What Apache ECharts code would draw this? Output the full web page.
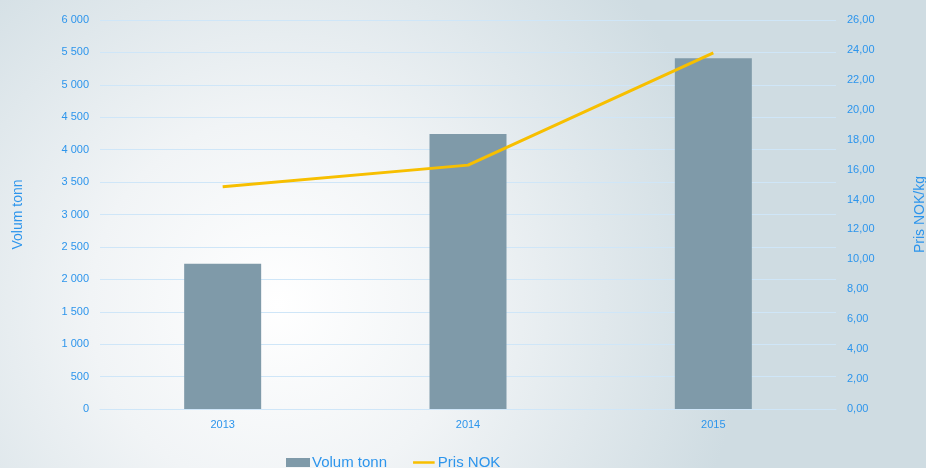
<!DOCTYPE html>
<html>
<head>
<meta charset="utf-8">
<script src="https://cdn.jsdelivr.net/npm/echarts@6/dist/echarts.min.js"></script>
<style>
  html, body { margin: 0; padding: 0; }
  #chart { width: 926px; height: 468px; }
</style>
</head>
<body>
<div id="chart"></div>
<script>
const years = ['2013', '2014', '2015'];
const volumTonn = [2240, 4240, 5410];
const prisNok = [14.85, 16.3, 23.8];

const blue = '#2d95ec';
const gridBlue = '#cfe6f8';

function fmtThousands(v) {
  return String(v).replace(/\B(?=(\d{3})+(?!\d))/g, ' ');
}

// thin line icon for the legend (tiny corner marks keep the box size)
const lineIcon = 'path://M0,0 L0.01,0 L0.01,0.01 Z M0,3.5 L24,3.5 L24,6.5 L0,6.5 Z M24,10 L23.99,10 L23.99,9.99 Z';

const chart = echarts.init(document.getElementById('chart'));

const option = {
  backgroundColor: new echarts.graphic.RadialGradient(0.3, 0.65, 1.0, [
    { offset: 0, color: '#ffffff' },
    { offset: 0.4, color: '#f1f4f6' },
    { offset: 1, color: '#cfdce2' }
  ]),
  textStyle: { fontFamily: 'Liberation Sans, Arial, sans-serif' },
  grid: { left: 100, right: 90, top: 20, bottom: 59, outerBoundsMode: 'none' },
  legend: {
    top: 455,
    left: 286,
    padding: 0,
    itemGap: 26,
    itemWidth: 24,
    itemHeight: 9,
    textStyle: { color: blue, fontSize: 15, padding: [0, 0, 0, -3] },
    data: [
      { name: 'Volum tonn', icon: 'rect' },
      { name: 'Pris NOK', icon: lineIcon, itemStyle: { color: '#f7bf00' } }
    ]
  },
  xAxis: {
    type: 'category',
    data: years,
    axisLine: { lineStyle: { color: gridBlue } },
    axisTick: { show: false },
    axisLabel: { color: blue, fontSize: 11, margin: 10 }
  },
  yAxis: [{
    type: 'value',
    min: 0,
    max: 6000,
    interval: 500,
    name: 'Volum tonn',
    nameLocation: 'middle',
    nameGap: 75,
    nameTextStyle: { color: blue, fontSize: 14 },
    axisLine: { show: false },
    axisTick: { show: false },
    axisLabel: { color: blue, fontSize: 11, margin: 11, formatter: fmtThousands },
    splitLine: { lineStyle: { color: gridBlue, width: 1 } }
  }, {
    type: 'value',
    min: 0,
    max: 26,
    interval: 2,
    name: 'Pris NOK/kg',
    nameLocation: 'middle',
    nameGap: 77,
    nameTextStyle: { color: blue, fontSize: 14 },
    axisLine: { show: false },
    axisTick: { show: false },
    axisLabel: {
      color: blue, fontSize: 11, margin: 11,
      formatter: v => v.toFixed(2).replace('.', ',')
    },
    splitLine: { show: false }
  }],
  series: [{
    name: 'Volum tonn',
    type: 'bar',
    data: volumTonn,
    barWidth: 77,
    itemStyle: { color: '#7f9aa9' }
  }, {
    name: 'Pris NOK',
    type: 'line',
    yAxisIndex: 1,
    data: prisNok,
    symbol: 'none',
    lineStyle: { color: '#f7bf00', width: 3 },
    itemStyle: { color: '#f7bf00' }
  }]
};

chart.setOption(option);
</script>
</body>
</html>
